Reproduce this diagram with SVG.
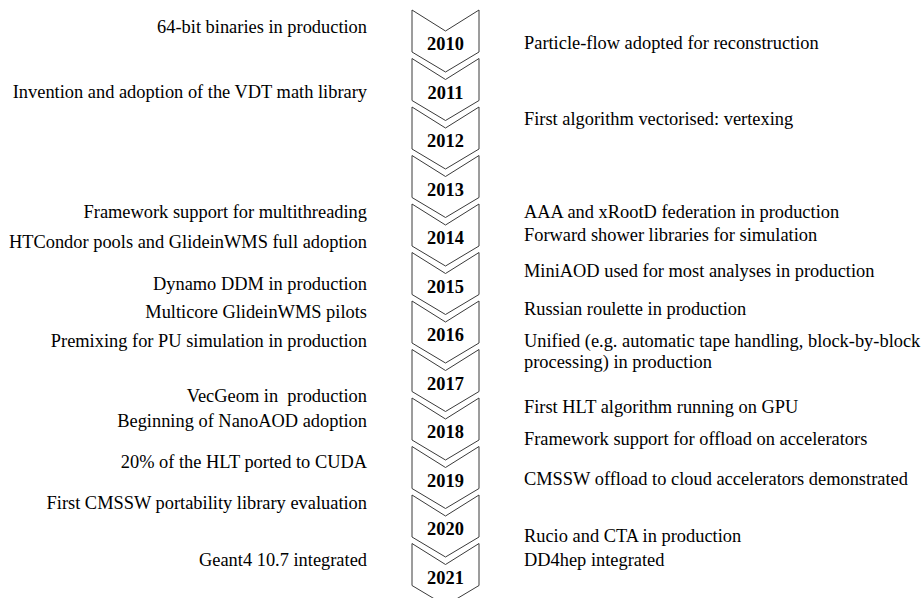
<svg xmlns="http://www.w3.org/2000/svg" width="924" height="598" viewBox="0 0 924 598">
<style>
.chev{fill:#ffffff;stroke:#3a3a3a;stroke-width:1}
.yr{font-family:"Liberation Serif","Times New Roman",serif;font-size:18.4px;font-weight:bold;fill:#000;text-anchor:middle}
.l{font-family:"Liberation Serif","Times New Roman",serif;font-size:18.4px;fill:#000;text-anchor:end}
.r{font-family:"Liberation Serif","Times New Roman",serif;font-size:18.4px;fill:#000;text-anchor:start}
</style>
<defs>
<path id="chevron" class="chev" d="M412,0 L445.5,21 L479,0 L479,42 L445.5,62 L412,42 Z"/>
</defs>
<g id="timeline">
<g id="y2010" transform="translate(0,10)"><use href="#chevron"/><text class="yr" x="445.5" y="40">2010</text></g>
<g id="y2011" transform="translate(0,58.5)"><use href="#chevron"/><text class="yr" x="445.5" y="40">2011</text></g>
<g id="y2012" transform="translate(0,107)"><use href="#chevron"/><text class="yr" x="445.5" y="40">2012</text></g>
<g id="y2013" transform="translate(0,155.5)"><use href="#chevron"/><text class="yr" x="445.5" y="40">2013</text></g>
<g id="y2014" transform="translate(0,204)"><use href="#chevron"/><text class="yr" x="445.5" y="40">2014</text></g>
<g id="y2015" transform="translate(0,252.5)"><use href="#chevron"/><text class="yr" x="445.5" y="40">2015</text></g>
<g id="y2016" transform="translate(0,301)"><use href="#chevron"/><text class="yr" x="445.5" y="40">2016</text></g>
<g id="y2017" transform="translate(0,349.5)"><use href="#chevron"/><text class="yr" x="445.5" y="40">2017</text></g>
<g id="y2018" transform="translate(0,398)"><use href="#chevron"/><text class="yr" x="445.5" y="40">2018</text></g>
<g id="y2019" transform="translate(0,446.5)"><use href="#chevron"/><text class="yr" x="445.5" y="40">2019</text></g>
<g id="y2020" transform="translate(0,495)"><use href="#chevron"/><text class="yr" x="445.5" y="40">2020</text></g>
<g id="y2021" transform="translate(0,543.5)"><use href="#chevron"/><text class="yr" x="445.5" y="40">2021</text></g>
</g>
<g id="left-events">
<text class="l" x="367" y="32.5">64-bit binaries in production</text>
<text class="l" x="367" y="97.5">Invention and adoption of the VDT math library</text>
<text class="l" x="367" y="218">Framework support for multithreading</text>
<text class="l" x="367" y="248">HTCondor pools and GlideinWMS full adoption</text>
<text class="l" x="367" y="289.5">Dynamo DDM in production</text>
<text class="l" x="367" y="318">Multicore GlideinWMS pilots</text>
<text class="l" x="367" y="346.5">Premixing for PU simulation in production</text>
<text class="l" x="367" y="402" xml:space="preserve">VecGeom in  production</text>
<text class="l" x="367" y="426.5">Beginning of NanoAOD adoption</text>
<text class="l" x="367" y="467.5">20% of the HLT ported to CUDA</text>
<text class="l" x="367" y="509">First CMSSW portability library evaluation</text>
<text class="l" x="367" y="566">Geant4 10.7 integrated</text>
</g>
<g id="right-events">
<text class="r" x="524" y="48.5">Particle-flow adopted for reconstruction</text>
<text class="r" x="524" y="124.5">First algorithm vectorised: vertexing</text>
<text class="r" x="524" y="218">AAA and xRootD federation in production</text>
<text class="r" x="524" y="241">Forward shower libraries for simulation</text>
<text class="r" x="524" y="276.5">MiniAOD used for most analyses in production</text>
<text class="r" x="524" y="315">Russian roulette in production</text>
<text class="r" x="524" y="346.5">Unified (e.g. automatic tape handling, block-by-block</text>
<text class="r" x="524" y="368">processing) in production</text>
<text class="r" x="524" y="412.5">First HLT algorithm running on GPU</text>
<text class="r" x="524" y="444.5">Framework support for offload on accelerators</text>
<text class="r" x="524" y="484.5">CMSSW offload to cloud accelerators demonstrated</text>
<text class="r" x="524" y="542">Rucio and CTA in production</text>
<text class="r" x="524" y="566">DD4hep integrated</text>
</g>
</svg>
